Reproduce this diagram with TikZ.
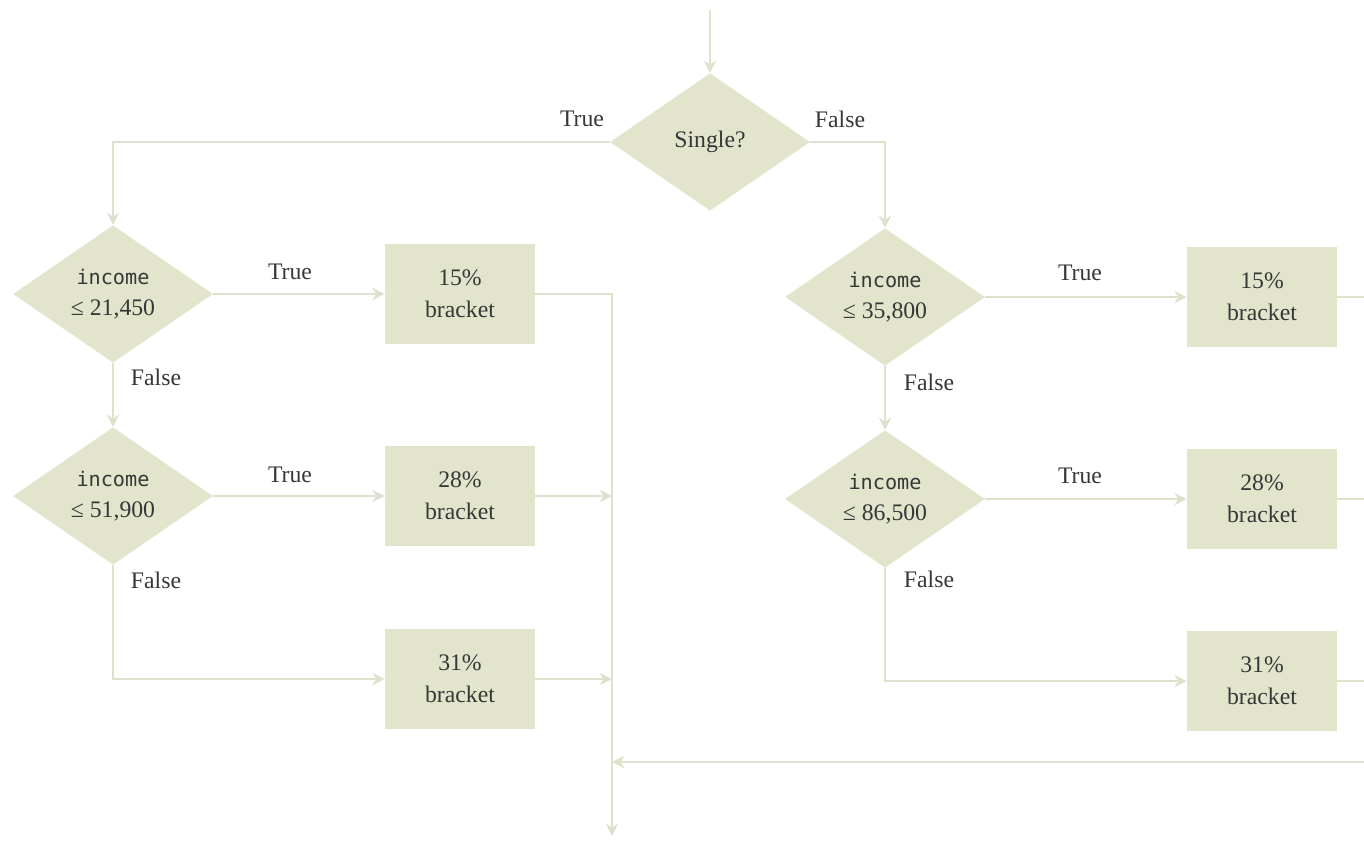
\documentclass[tikz,border=0pt]{standalone}
\usepackage{fontspec}
\setmainfont{Liberation Serif}
\setmonofont{DejaVu Sans Mono}
\usetikzlibrary{positioning,arrows.meta,shapes.geometric}
\definecolor{boxfill}{RGB}{226,229,204}
\definecolor{flowline}{RGB}{222,226,205}
\definecolor{labeltext}{RGB}{55,55,55}
\newcommand{\incomeword}{{\fontsize{11.5}{18}\selectfont\ttfamily income}}

\begin{document}
\begin{tikzpicture}[x=0.02cm, y=-0.02cm,
  decision/.style={diamond, fill=boxfill, minimum width=4cm, minimum height=2.75cm, inner sep=0pt, align=center, text=labeltext, font=\fontsize{13.5}{18}\selectfont},
  bracketbox/.style={rectangle, fill=boxfill, minimum width=3cm, minimum height=2cm, align=center, text=labeltext, font=\fontsize{13.5}{18}\selectfont},
  branch/.style={text=labeltext, font=\fontsize{13.5}{16}\selectfont},
  flow/.style={draw=flowline, line width=1.6pt},
  arrow/.style={flow, -{Stealth[length=7pt, width=7pt]}}
  ]
  \useasboundingbox (0,0) rectangle (1364,842);
  \clip (0,0) rectangle (1364,842);
  % decisions
  \node[decision] (single) at (710,142) {Single?};
  \node[decision] (s1) at (113,294) {\incomeword\\≤ 21,450};
  \node[decision] (s2) at (113,496) {\incomeword\\≤ 51,900};
  \node[decision] (m1) at (885,297) {\incomeword\\≤ 35,800};
  \node[decision] (m2) at (885,499) {\incomeword\\≤ 86,500};
  % brackets
  \node[bracketbox] (sb1) at (460,294) {15\%\\bracket};
  \node[bracketbox] (sb2) at (460,496) {28\%\\bracket};
  \node[bracketbox] (sb3) at (460,679) {31\%\\bracket};
  \node[bracketbox] (mb1) at (1262,297) {15\%\\bracket};
  \node[bracketbox] (mb2) at (1262,499) {28\%\\bracket};
  \node[bracketbox] (mb3) at (1262,681) {31\%\\bracket};
  % branch labels
  \node[branch] (tsingle) at (582,119) {True};
  \node[branch] (fsingle) at (840,119) {False};
  \node[branch] (ts1) at (290,272) {True};
  \node[branch] (ts2) at (290,475) {True};
  \node[branch] (fs1) at (156,377) {False};
  \node[branch] (fs2) at (156,580) {False};
  \node[branch] (tm1) at (1080,273) {True};
  \node[branch] (tm2) at (1080,476) {True};
  \node[branch] (fm1) at (929,382) {False};
  \node[branch] (fm2) at (929,579) {False};
  % free ends
  \coordinate (entry) at (710,10);
  \coordinate (exit) at (612,836);
  \coordinate (rim) at (1390,762);
  % connectors
  \draw[arrow] (entry) -- (single);
  \draw[arrow] (single.west) -| (s1.north);
  \draw[arrow] (single.east) -| (m1.north);
  \draw[arrow] (s1.east) -- (s1.east -| sb1.west);
  \draw[arrow] (s2.east) -- (s2.east -| sb2.west);
  \draw[arrow] (s1) -- (s2);
  \draw[arrow] (s2.south) |- (sb3.west);
  \draw[arrow] (m1.east) -- (m1.east -| mb1.west);
  \draw[arrow] (m2.east) -- (m2.east -| mb2.west);
  \draw[arrow] (m1) -- (m2);
  \draw[arrow] (m2.south) |- (mb3.west);
  \draw[arrow] (sb1.east) -| (exit);
  \draw[arrow] (sb2.east) -- (sb2.east -| exit);
  \draw[arrow] (sb3.east) -- (sb3.east -| exit);
  \draw[flow] (mb1.east) -- (mb1.east -| rim);
  \draw[flow] (mb2.east) -- (mb2.east -| rim);
  \draw[flow] (mb3.east) -- (mb3.east -| rim);
  \draw[arrow] (rim) -- (rim -| exit);
\end{tikzpicture}
\end{document}
